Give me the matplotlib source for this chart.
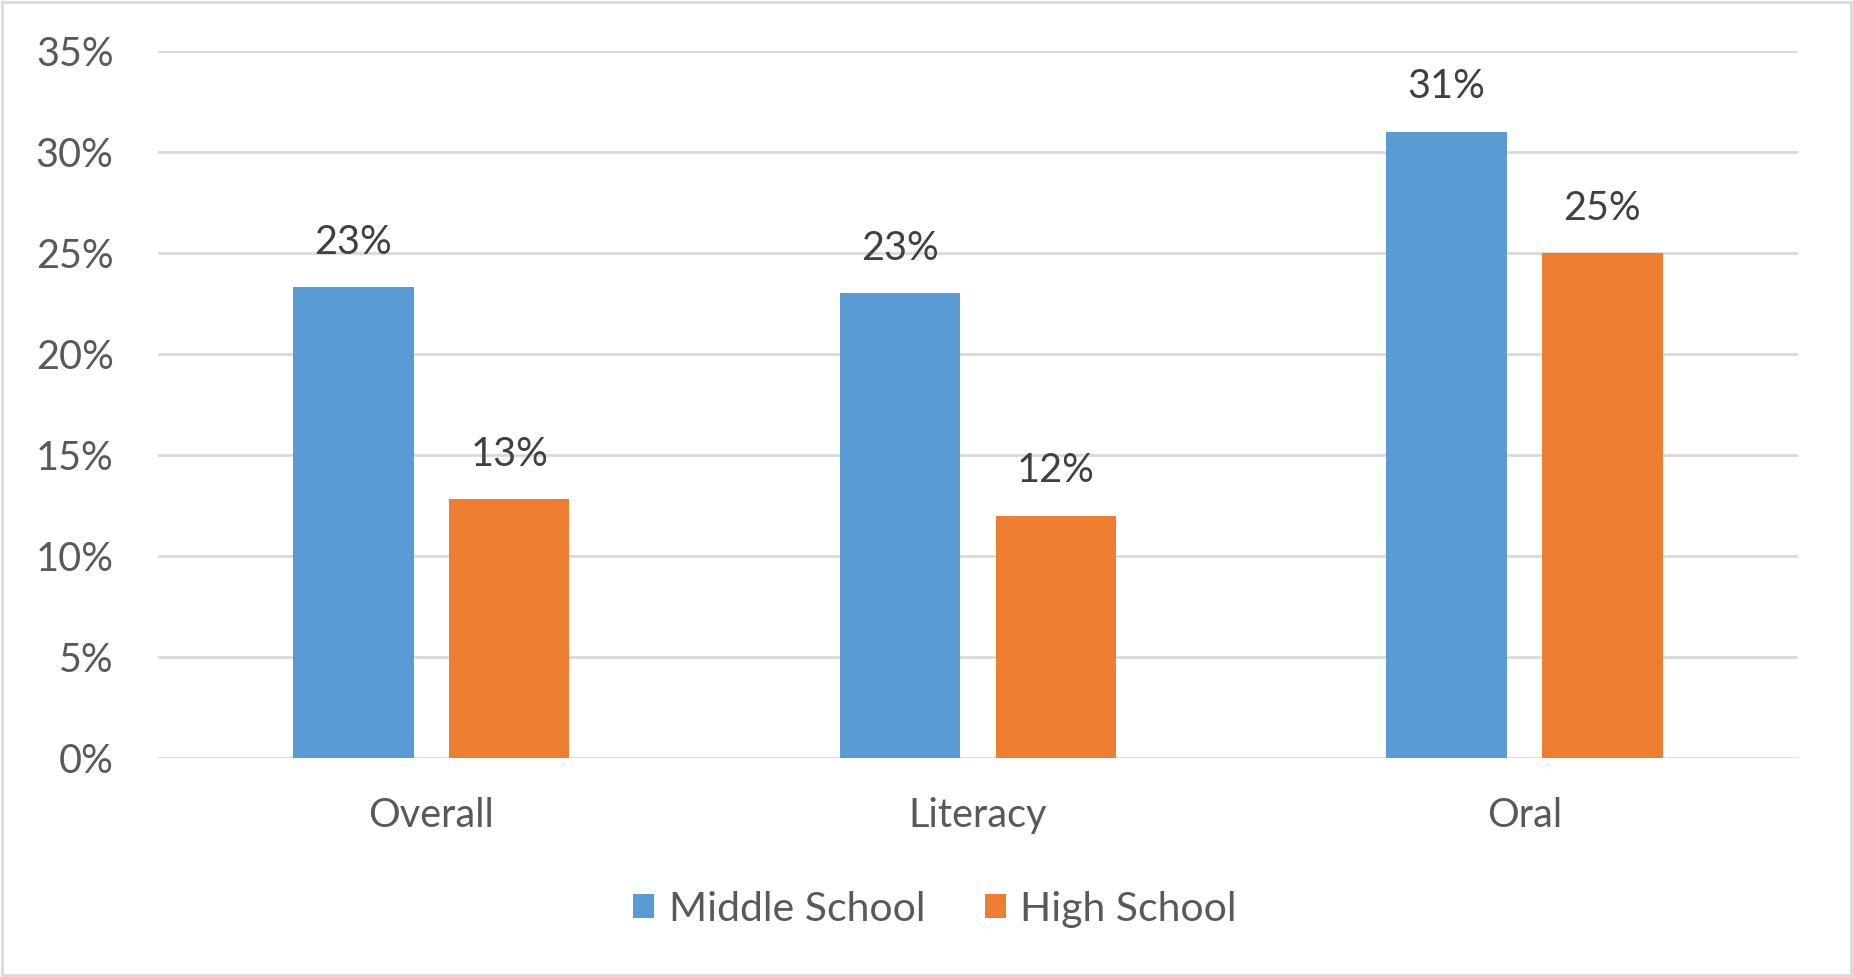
import matplotlib.pyplot as plt
import numpy as np
from matplotlib.patches import Rectangle

plt.rcParams['font.family'] = ['Lato', 'DejaVu Sans']

categories = ['Overall', 'Literacy', 'Oral']
middle_school = [0.233, 0.230, 0.310]
high_school = [0.128, 0.120, 0.250]
series_names = ['Middle School', 'High School']
yticks = [0, 0.05, 0.10, 0.15, 0.20, 0.25, 0.30, 0.35]

blue = '#5B9BD5'
orange = '#ED7D31'
grid_col = '#D9D9D9'
tick_col = '#595959'
label_col = '#404040'

fig = plt.figure(figsize=(18.53, 9.77), dpi=100)
ax = fig.add_axes([0.0853, 0.2242, 0.8849, 0.7236])

x = np.arange(len(categories))
w = 0.22
off = 0.1425
b1 = ax.bar(x - off, middle_school, w, color=blue, label=series_names[0], zorder=3)
b2 = ax.bar(x + off, high_school, w, color=orange, label=series_names[1], zorder=3)

for bars, vals in ((b1, middle_school), (b2, high_school)):
    for r, v in zip(bars, vals):
        ax.annotate('{:.0f}%'.format(v * 100), (r.get_x() + r.get_width() / 2, v),
                    xytext=(0, 24), textcoords='offset points',
                    ha='center', va='baseline', fontsize=28.5, color=label_col)

ax.set_xlim(-0.5, 2.5)
ax.set_ylim(0, 0.35)
ax.set_yticks(yticks)
ax.set_yticklabels(['{:.0f}%'.format(t * 100) for t in yticks])
ax.set_xticks(x)
ax.set_xticklabels(categories)
ax.tick_params(axis='y', length=0, pad=32, labelsize=28.5, labelcolor=tick_col)
ax.tick_params(axis='x', length=0, pad=28, labelsize=28.5, labelcolor=tick_col)

ax.yaxis.grid(True, color=grid_col, linewidth=2, zorder=0)
ax.set_axisbelow(True)
for s in ax.spines.values():
    s.set_visible(False)

fig.legend(loc='center', bbox_to_anchor=(0.5046, 0.0696), ncol=2, frameon=False,
           fontsize=29.5, labelcolor=tick_col, handlelength=0.52, handleheight=0.52,
           handletextpad=0.35, columnspacing=1.45)

# thin grey frame round the whole chart area
fig.patches.append(Rectangle((0.001, 0.002), 0.998, 0.996, transform=fig.transFigure,
                             fill=False, edgecolor=grid_col, linewidth=2))

fig.savefig('out.png', dpi=100)
